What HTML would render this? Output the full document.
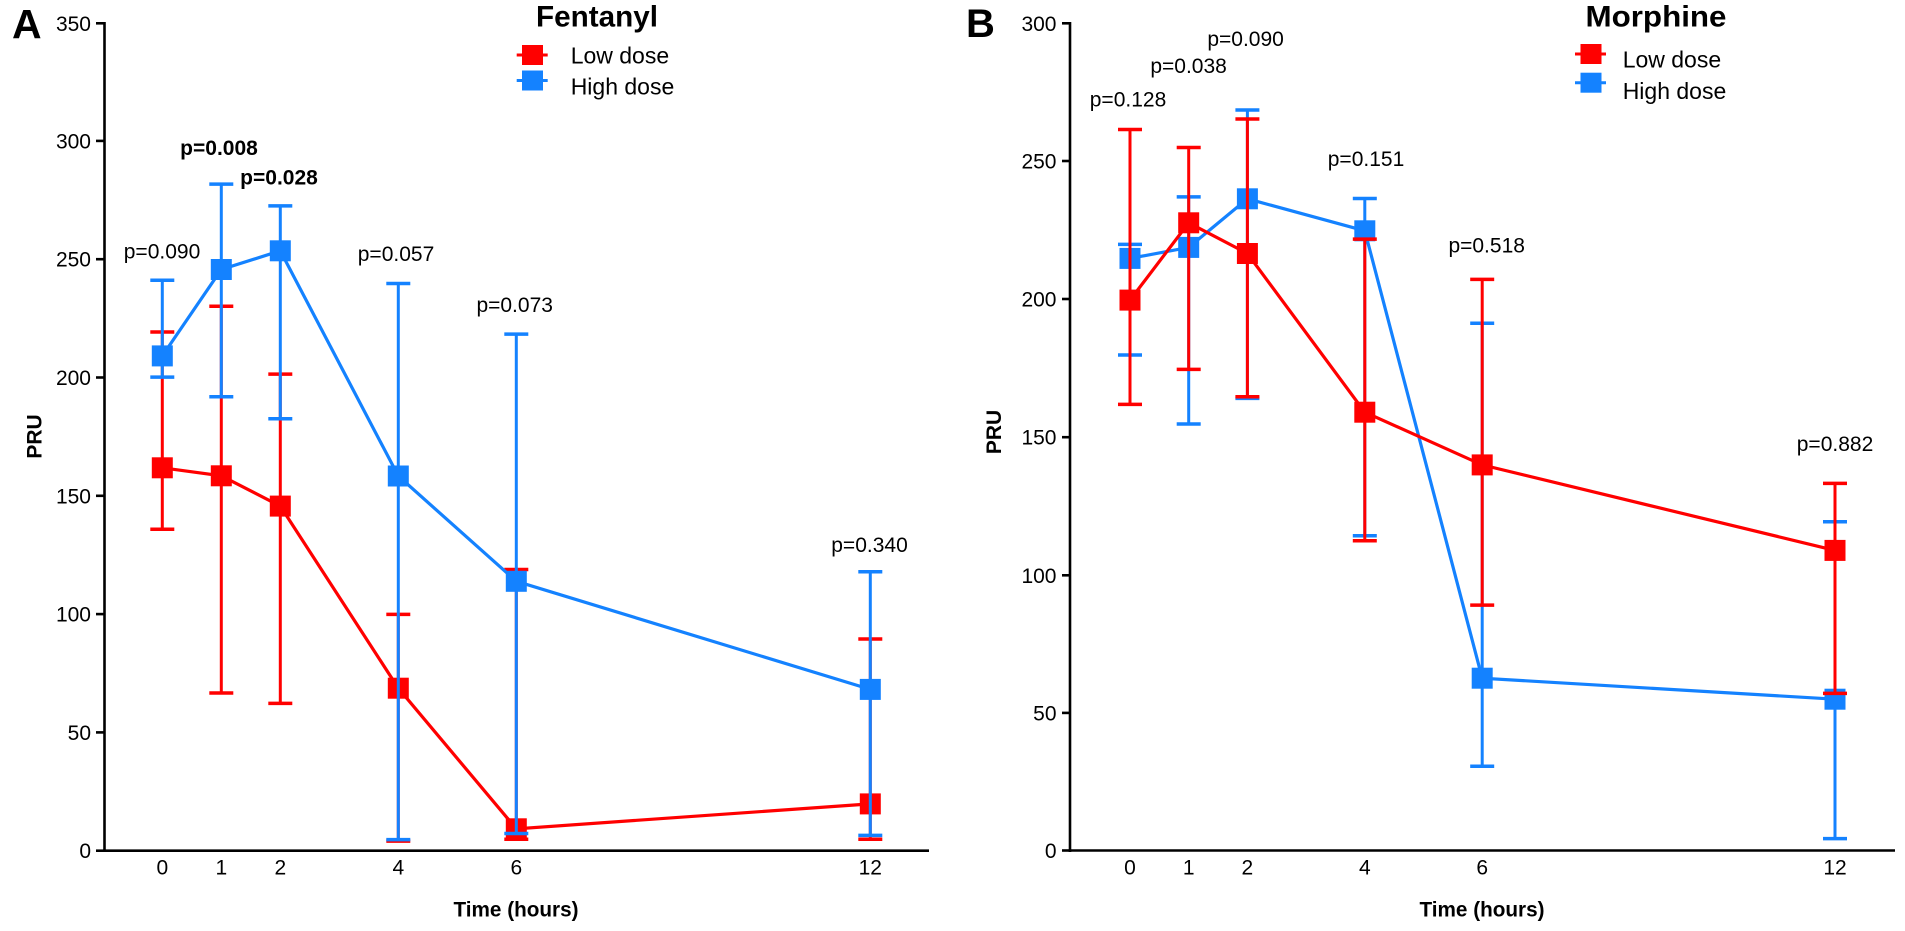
<!DOCTYPE html>
<html>
<head>
<meta charset="utf-8">
<style>
  html, body { margin: 0; padding: 0; background: #ffffff; }
  body { width: 1905px; height: 931px; overflow: hidden; }
  svg { display: block; }
  text { font-family: "Liberation Sans", Arial, Helvetica, sans-serif; fill: #000; }
</style>
</head>
<body>
<svg width="1905" height="931" viewBox="0 0 1905 931" xmlns="http://www.w3.org/2000/svg">
  <rect x="0" y="0" width="1905" height="931" fill="#ffffff"/>

  <!-- ================= PANEL A ================= -->
  <text x="12" y="38" font-size="41" font-weight="bold">A</text>

  <!-- axes -->
  <g stroke="#000" stroke-width="2.6" fill="none">
    <line x1="104.5" y1="22" x2="104.5" y2="852"/>
    <line x1="103" y1="850.7" x2="929" y2="850.7"/>
    <!-- y ticks -->
    <line x1="96" y1="850.7" x2="104" y2="850.7"/>
    <line x1="96" y1="732.4" x2="104" y2="732.4"/>
    <line x1="96" y1="614.1" x2="104" y2="614.1"/>
    <line x1="96" y1="495.8" x2="104" y2="495.8"/>
    <line x1="96" y1="377.5" x2="104" y2="377.5"/>
    <line x1="96" y1="259.2" x2="104" y2="259.2"/>
    <line x1="96" y1="140.9" x2="104" y2="140.9"/>
    <line x1="96" y1="23.3" x2="104" y2="23.3"/>
  </g>
  <g font-size="21" text-anchor="end">
    <text x="91" y="858.2">0</text>
    <text x="91" y="739.9">50</text>
    <text x="91" y="621.6">100</text>
    <text x="91" y="503.3">150</text>
    <text x="91" y="385.0">200</text>
    <text x="91" y="266.7">250</text>
    <text x="91" y="148.4">300</text>
    <text x="91" y="30.8">350</text>
  </g>
  <g font-size="21" text-anchor="middle">
    <text x="162.3" y="874.5">0</text>
    <text x="221.3" y="874.5">1</text>
    <text x="280.3" y="874.5">2</text>
    <text x="398.3" y="874.5">4</text>
    <text x="516.3" y="874.5">6</text>
    <text x="870.3" y="874.5">12</text>
  </g>
  <text x="516" y="916.5" font-size="21" font-weight="bold" text-anchor="middle" textLength="125" lengthAdjust="spacingAndGlyphs">Time (hours)</text>
  <text transform="translate(41.5,436.5) rotate(-90)" font-size="21" font-weight="bold" text-anchor="middle">PRU</text>

  <!-- title + legend -->
  <text x="597" y="26.5" font-size="30" font-weight="bold" text-anchor="middle" textLength="122" lengthAdjust="spacingAndGlyphs">Fentanyl</text>
  <line x1="516.7" y1="55" x2="547.7" y2="55" stroke="#ff0000" stroke-width="3"/>
  <rect x="522" y="45" width="21" height="20" fill="#ff0000"/>
  <line x1="516.7" y1="80.5" x2="547.7" y2="80.5" stroke="#1482ff" stroke-width="3"/>
  <rect x="522" y="70.5" width="21" height="20" fill="#1482ff"/>
  <text x="570.7" y="63.3" font-size="23">Low dose</text>
  <text x="570.7" y="94.5" font-size="23">High dose</text>

  <!-- red series A -->
  <g stroke="#ff0000" stroke-width="3" fill="none">
    <line x1="162.3" y1="529.3" x2="162.3" y2="332.0"/>
    <line x1="221.3" y1="693.0" x2="221.3" y2="306.2"/>
    <line x1="280.3" y1="703.4" x2="280.3" y2="374.1"/>
    <line x1="398.3" y1="841.1" x2="398.3" y2="614.4"/>
    <line x1="516.3" y1="839.2" x2="516.3" y2="569.5"/>
    <line x1="870.3" y1="839.2" x2="870.3" y2="639.0"/>
  </g>
  <g stroke="#ff0000" stroke-width="3.5" fill="none">
    <line x1="150.3" y1="529.3" x2="174.3" y2="529.3"/><line x1="150.3" y1="332.0" x2="174.3" y2="332.0"/>
    <line x1="209.3" y1="693.0" x2="233.3" y2="693.0"/><line x1="209.3" y1="306.2" x2="233.3" y2="306.2"/>
    <line x1="268.3" y1="703.4" x2="292.3" y2="703.4"/><line x1="268.3" y1="374.1" x2="292.3" y2="374.1"/>
    <line x1="386.3" y1="841.1" x2="410.3" y2="841.1"/><line x1="386.3" y1="614.4" x2="410.3" y2="614.4"/>
    <line x1="504.3" y1="839.2" x2="528.3" y2="839.2"/><line x1="504.3" y1="569.5" x2="528.3" y2="569.5"/>
    <line x1="858.3" y1="839.2" x2="882.3" y2="839.2"/><line x1="858.3" y1="639.0" x2="882.3" y2="639.0"/>
  </g>
  <polyline points="162.3,467.8 221.3,475.8 280.3,506.1 398.3,688.2 516.3,828.8 870.3,803.9" fill="none" stroke="#ff0000" stroke-width="3.2" stroke-linejoin="miter"/>
  <g fill="#ff0000">
    <rect x="151.8" y="457.3" width="21" height="21"/>
    <rect x="210.8" y="465.3" width="21" height="21"/>
    <rect x="269.8" y="495.6" width="21" height="21"/>
    <rect x="387.8" y="677.7" width="21" height="21"/>
    <rect x="505.8" y="818.3" width="21" height="21"/>
    <rect x="859.8" y="793.4" width="21" height="21"/>
  </g>

  <!-- blue series A -->
  <g stroke="#1482ff" stroke-width="3" fill="none">
    <line x1="162.3" y1="377.1" x2="162.3" y2="280.2"/>
    <line x1="221.3" y1="396.8" x2="221.3" y2="184.1"/>
    <line x1="280.3" y1="418.8" x2="280.3" y2="205.9"/>
    <line x1="398.3" y1="839.6" x2="398.3" y2="283.5"/>
    <line x1="516.3" y1="833.5" x2="516.3" y2="334.1"/>
    <line x1="870.3" y1="835.4" x2="870.3" y2="571.8"/>
  </g>
  <g stroke="#1482ff" stroke-width="3.5" fill="none">
    <line x1="150.3" y1="377.1" x2="174.3" y2="377.1"/><line x1="150.3" y1="280.2" x2="174.3" y2="280.2"/>
    <line x1="209.3" y1="396.8" x2="233.3" y2="396.8"/><line x1="209.3" y1="184.1" x2="233.3" y2="184.1"/>
    <line x1="268.3" y1="418.8" x2="292.3" y2="418.8"/><line x1="268.3" y1="205.9" x2="292.3" y2="205.9"/>
    <line x1="386.3" y1="839.6" x2="410.3" y2="839.6"/><line x1="386.3" y1="283.5" x2="410.3" y2="283.5"/>
    <line x1="504.3" y1="833.5" x2="528.3" y2="833.5"/><line x1="504.3" y1="334.1" x2="528.3" y2="334.1"/>
    <line x1="858.3" y1="835.4" x2="882.3" y2="835.4"/><line x1="858.3" y1="571.8" x2="882.3" y2="571.8"/>
  </g>
  <polyline points="162.3,355.9 221.3,269.5 280.3,250.8 398.3,476.0 516.3,581.3 870.3,689.4" fill="none" stroke="#1482ff" stroke-width="3.2"/>
  <g fill="#1482ff">
    <rect x="151.8" y="345.4" width="21" height="21"/>
    <rect x="210.8" y="259.0" width="21" height="21"/>
    <rect x="269.8" y="240.3" width="21" height="21"/>
    <rect x="387.8" y="465.5" width="21" height="21"/>
    <rect x="505.8" y="570.8" width="21" height="21"/>
    <rect x="859.8" y="678.9" width="21" height="21"/>
  </g>

  <!-- p-values A -->
  <g font-size="21" text-anchor="middle">
    <text x="162" y="258.5">p=0.090</text>
    <text x="219" y="155" font-weight="bold">p=0.008</text>
    <text x="279" y="184.3" font-weight="bold">p=0.028</text>
    <text x="396" y="261">p=0.057</text>
    <text x="514.7" y="312">p=0.073</text>
    <text x="869.5" y="552">p=0.340</text>
  </g>

  <!-- ================= PANEL B ================= -->
  <text x="966" y="37" font-size="40" font-weight="bold">B</text>

  <g stroke="#000" stroke-width="2.6" fill="none">
    <line x1="1070" y1="22" x2="1070" y2="852"/>
    <line x1="1068.7" y1="850.5" x2="1895" y2="850.5"/>
    <line x1="1062" y1="850.5" x2="1070" y2="850.5"/>
    <line x1="1062" y1="712.9" x2="1070" y2="712.9"/>
    <line x1="1062" y1="575.3" x2="1070" y2="575.3"/>
    <line x1="1062" y1="437.2" x2="1070" y2="437.2"/>
    <line x1="1062" y1="299.0" x2="1070" y2="299.0"/>
    <line x1="1062" y1="161.0" x2="1070" y2="161.0"/>
    <line x1="1062" y1="23.3" x2="1070" y2="23.3"/>
  </g>
  <g font-size="21" text-anchor="end">
    <text x="1056.5" y="858.0">0</text>
    <text x="1056.5" y="720.4">50</text>
    <text x="1056.5" y="582.8">100</text>
    <text x="1056.5" y="444.7">150</text>
    <text x="1056.5" y="306.5">200</text>
    <text x="1056.5" y="168.5">250</text>
    <text x="1056.5" y="30.8">300</text>
  </g>
  <g font-size="21" text-anchor="middle">
    <text x="1130" y="874.5">0</text>
    <text x="1188.7" y="874.5">1</text>
    <text x="1247.4" y="874.5">2</text>
    <text x="1364.8" y="874.5">4</text>
    <text x="1482.2" y="874.5">6</text>
    <text x="1835" y="874.5">12</text>
  </g>
  <text x="1482" y="916.5" font-size="21" font-weight="bold" text-anchor="middle" textLength="125" lengthAdjust="spacingAndGlyphs">Time (hours)</text>
  <text transform="translate(1001,432) rotate(-90)" font-size="21" font-weight="bold" text-anchor="middle">PRU</text>

  <text x="1656" y="26.5" font-size="30" font-weight="bold" text-anchor="middle" textLength="141" lengthAdjust="spacingAndGlyphs">Morphine</text>
  <line x1="1575" y1="54" x2="1606" y2="54" stroke="#ff0000" stroke-width="3"/>
  <rect x="1580.5" y="44" width="21" height="20" fill="#ff0000"/>
  <line x1="1575" y1="82.7" x2="1606" y2="82.7" stroke="#1482ff" stroke-width="3"/>
  <rect x="1580.5" y="72.7" width="21" height="20" fill="#1482ff"/>
  <text x="1622.7" y="67.5" font-size="23">Low dose</text>
  <text x="1622.7" y="99" font-size="23">High dose</text>

  <!-- blue series B (drawn first) -->
  <g stroke="#1482ff" stroke-width="3" fill="none">
    <line x1="1130" y1="355.0" x2="1130" y2="244.4"/>
    <line x1="1188.7" y1="424.0" x2="1188.7" y2="196.9"/>
    <line x1="1247.4" y1="398.4" x2="1247.4" y2="110.0"/>
    <line x1="1364.8" y1="535.8" x2="1364.8" y2="198.5"/>
    <line x1="1482.2" y1="766.3" x2="1482.2" y2="323.3"/>
    <line x1="1835" y1="838.6" x2="1835" y2="521.7"/>
  </g>
  <g stroke="#1482ff" stroke-width="3.5" fill="none">
    <line x1="1118" y1="355.0" x2="1142" y2="355.0"/><line x1="1118" y1="244.4" x2="1142" y2="244.4"/>
    <line x1="1176.7" y1="424.0" x2="1200.7" y2="424.0"/><line x1="1176.7" y1="196.9" x2="1200.7" y2="196.9"/>
    <line x1="1235.4" y1="398.4" x2="1259.4" y2="398.4"/><line x1="1235.4" y1="110.0" x2="1259.4" y2="110.0"/>
    <line x1="1352.8" y1="535.8" x2="1376.8" y2="535.8"/><line x1="1352.8" y1="198.5" x2="1376.8" y2="198.5"/>
    <line x1="1470.2" y1="766.3" x2="1494.2" y2="766.3"/><line x1="1470.2" y1="323.3" x2="1494.2" y2="323.3"/>
    <line x1="1823" y1="838.6" x2="1847" y2="838.6"/><line x1="1823" y1="521.7" x2="1847" y2="521.7"/>
  </g>
  <polyline points="1130,258.4 1188.7,247.4 1247.4,198.8 1364.8,230.8 1482.2,678.2 1835,699.2" fill="none" stroke="#1482ff" stroke-width="3.2"/>
  <g fill="#1482ff">
    <rect x="1119.5" y="247.9" width="21" height="21"/>
    <rect x="1178.2" y="236.9" width="21" height="21"/>
    <rect x="1236.9" y="188.3" width="21" height="21"/>
    <rect x="1354.3" y="220.3" width="21" height="21"/>
    <rect x="1471.7" y="667.7" width="21" height="21"/>
    <rect x="1824.5" y="688.7" width="21" height="21"/>
  </g>

  <!-- red series B -->
  <g stroke="#ff0000" stroke-width="3" fill="none">
    <line x1="1130" y1="404.4" x2="1130" y2="129.5"/>
    <line x1="1188.7" y1="369.4" x2="1188.7" y2="147.5"/>
    <line x1="1247.4" y1="396.7" x2="1247.4" y2="119.0"/>
    <line x1="1364.8" y1="540.8" x2="1364.8" y2="239.1"/>
    <line x1="1482.2" y1="605.1" x2="1482.2" y2="279.4"/>
    <line x1="1835" y1="693.4" x2="1835" y2="483.4"/>
  </g>
  <g stroke="#ff0000" stroke-width="3.5" fill="none">
    <line x1="1118" y1="404.4" x2="1142" y2="404.4"/><line x1="1118" y1="129.5" x2="1142" y2="129.5"/>
    <line x1="1176.7" y1="369.4" x2="1200.7" y2="369.4"/><line x1="1176.7" y1="147.5" x2="1200.7" y2="147.5"/>
    <line x1="1235.4" y1="396.7" x2="1259.4" y2="396.7"/><line x1="1235.4" y1="119.0" x2="1259.4" y2="119.0"/>
    <line x1="1352.8" y1="540.8" x2="1376.8" y2="540.8"/><line x1="1352.8" y1="239.1" x2="1376.8" y2="239.1"/>
    <line x1="1470.2" y1="605.1" x2="1494.2" y2="605.1"/><line x1="1470.2" y1="279.4" x2="1494.2" y2="279.4"/>
    <line x1="1823" y1="693.4" x2="1847" y2="693.4"/><line x1="1823" y1="483.4" x2="1847" y2="483.4"/>
  </g>
  <polyline points="1130,300.1 1188.7,222.8 1247.4,253.5 1364.8,412.2 1482.2,464.9 1835,550.4" fill="none" stroke="#ff0000" stroke-width="3.2"/>
  <g fill="#ff0000">
    <rect x="1119.5" y="289.6" width="21" height="21"/>
    <rect x="1178.2" y="212.3" width="21" height="21"/>
    <rect x="1236.9" y="243.0" width="21" height="21"/>
    <rect x="1354.3" y="401.7" width="21" height="21"/>
    <rect x="1471.7" y="454.4" width="21" height="21"/>
    <rect x="1824.5" y="539.9" width="21" height="21"/>
  </g>

  <!-- p-values B -->
  <g font-size="21" text-anchor="middle">
    <text x="1128" y="106.5">p=0.128</text>
    <text x="1188.6" y="73">p=0.038</text>
    <text x="1245.6" y="46">p=0.090</text>
    <text x="1366" y="166">p=0.151</text>
    <text x="1486.7" y="252.5">p=0.518</text>
    <text x="1835" y="451">p=0.882</text>
  </g>
</svg>
</body>
</html>
